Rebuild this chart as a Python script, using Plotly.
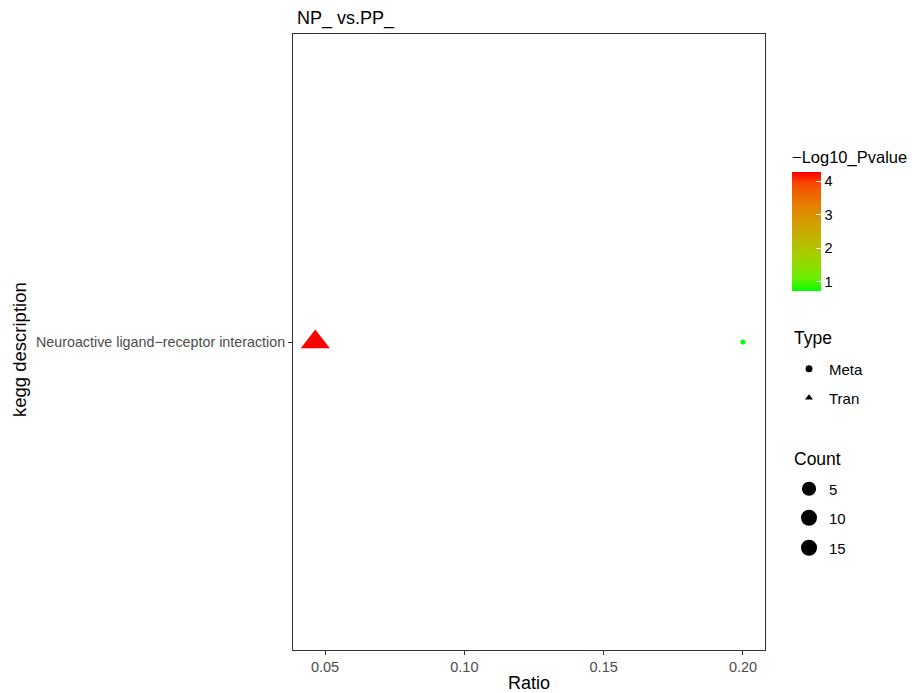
import numpy as np
import plotly.graph_objects as go

# ---- data ----
pathways = ["Neuroactive ligand\u2212receptor interaction", "Neuroactive ligand\u2212receptor interaction"]
types = ["Meta", "Tran"]
ratios = [0.2, 0.0465]
neg_log10_p = [0.73, 4.27]
counts = [1, 18]
count_legend_values = [5, 10, 15]
x_ticks = [0.05, 0.10, 0.15, 0.20]

# ---- layout helpers (reference pixel coordinates, page has 8px body margin) ----
FONT = "Liberation Sans, Arial, Helvetica, sans-serif"
OFF = 8
W, H = 920 - OFF, 693 - OFF
PANEL_L, PANEL_R, PANEL_T, PANEL_B = 293, 765, 34, 650
L, T = PANEL_L - OFF, PANEL_T - OFF
R, B = W - (PANEL_R - OFF), H - (PANEL_B - OFF)
PW, PH = W - L - R, H - T - B


def px_x(p):
    return (p - OFF - L) / PW


def px_y(p):
    return (H - B - (p - OFF)) / PH


def hex2rgb(h):
    h = h.lstrip("#")
    return np.array([int(h[i:i + 2], 16) for i in (0, 2, 4)]) / 255.0


def srgb_to_lab(c):
    c = np.where(c <= 0.04045, c / 12.92, ((c + 0.055) / 1.055) ** 2.4)
    M = np.array([[0.4124, 0.3576, 0.1805], [0.2126, 0.7152, 0.0722], [0.0193, 0.1192, 0.9505]])
    xyz = M @ c / np.array([0.95047, 1.0, 1.08883])
    f = np.where(xyz > 0.008856, np.cbrt(xyz), 7.787 * xyz + 16 / 116)
    return np.array([116 * f[1] - 16, 500 * (f[0] - f[1]), 200 * (f[1] - f[2])])


def lab_to_srgb(lab):
    fy = (lab[0] + 16) / 116
    fx = fy + lab[1] / 500
    fz = fy - lab[2] / 200
    f = np.array([fx, fy, fz])
    xyz = np.where(f ** 3 > 0.008856, f ** 3, (f - 16 / 116) / 7.787) * np.array([0.95047, 1.0, 1.08883])
    Mi = np.array([[3.2406, -1.5372, -0.4986], [-0.9689, 1.8758, 0.0415], [0.0557, -0.2040, 1.0570]])
    c = np.clip(Mi @ xyz, 0, 1)
    c = np.where(c <= 0.0031308, 12.92 * c, 1.055 * c ** (1 / 2.4) - 0.055)
    return "rgb(%d,%d,%d)" % tuple(np.round(np.clip(c, 0, 1) * 255))


lo, hi = srgb_to_lab(hex2rgb("#00FF00")), srgb_to_lab(hex2rgb("#FF0000"))
colorscale = [[t, lab_to_srgb(lo + (hi - lo) * t)] for t in np.linspace(0, 1, 11)]

cmin_c, cmax_c = min(counts), max(counts)


def size_px(c):
    return 5 + 19 * np.sqrt((c - cmin_c) / (cmax_c - cmin_c))


symbol_map = {"Meta": "circle", "Tran": "triangle-up"}
shape_factor = {"Meta": 1.0, "Tran": 1.05}

fig = go.Figure()

# data traces (one per type)
for i, t in enumerate(types):
    fig.add_trace(go.Scatter(
        x=[ratios[i]], y=[pathways[i]], mode="markers", showlegend=False,
        marker=dict(
            symbol=symbol_map[t], size=[size_px(counts[i]) * shape_factor[t]], opacity=1,
            color=[neg_log10_p[i]], colorscale=colorscale,
            cmin=min(neg_log10_p), cmax=max(neg_log10_p),
            showscale=(i == 0),
            colorbar=dict(
                title=dict(text="\u2212Log10_Pvalue", side="top",
                           font=dict(size=16.5, color="black", family=FONT)),
                thickness=29, thicknessmode="pixels", len=143, lenmode="pixels",
                x=px_x(792), xanchor="left", y=px_y(148), yanchor="top",
                xpad=0, ypad=0, outlinewidth=0,
                tickvals=[1, 2, 3, 4], ticks="inside", ticklen=5, tickcolor="white",
                tickfont=dict(size=14.5, color="black", family=FONT),
            ),
            line=dict(width=0),
        ),
        hovertemplate="%{x}<extra></extra>",
    ))

# legend entries: each in its own legend box to control spacing
legend_layout = {}
legend_items = (
    [(t, symbol_map[t], 7, y) for t, y in zip(types, [369, 398])]
    + [(str(c), "circle", size_px(c), y) for c, y in zip(count_legend_values, [489, 518, 548])]
)
for k, (name, sym, sz, ypos) in enumerate(legend_items):
    key = "legend" if k == 0 else "legend%d" % (k + 1)
    fig.add_trace(go.Scatter(
        x=[None], y=[None], mode="markers", name=name, legend=key,
        marker=dict(symbol=sym, size=sz, color="black"),
    ))
    legend_layout[key] = dict(
        x=px_x(789), xanchor="left", y=px_y(ypos), yanchor="middle",
        bgcolor="rgba(0,0,0,0)", borderwidth=0,
        font=dict(size=15, color="black", family=FONT), itemsizing="trace",
    )

annotations = [
    dict(text="Type", x=px_x(792), y=px_y(338), xref="paper", yref="paper",
         xanchor="left", yanchor="middle", showarrow=False,
         font=dict(size=17.5, color="black", family=FONT)),
    dict(text="Count", x=px_x(792), y=px_y(459), xref="paper", yref="paper",
         xanchor="left", yanchor="middle", showarrow=False,
         font=dict(size=17.5, color="black", family=FONT)),
    # y-axis title
    dict(text="kegg description", x=px_x(19), y=px_y(350), xref="paper", yref="paper",
         xanchor="center", yanchor="middle", textangle=-90, showarrow=False,
         font=dict(size=18.5, color="black", family=FONT)),
]

fig.update_layout(
    width=W, height=H,
    margin=dict(l=L, r=R, t=T, b=B, autoexpand=False),
    paper_bgcolor="white", plot_bgcolor="white",
    font=dict(family=FONT, color="black"),
    title=dict(text="NP_ vs.PP_", xref="paper", x=4 / PW, xanchor="left",
               yref="container", y=1 - (18 - OFF) / H, yanchor="middle",
               font=dict(size=18, color="black", family=FONT)),
    annotations=annotations,
    xaxis=dict(
        range=[0.0385, 0.2079], tickvals=x_ticks, tickformat=".2f",
        showgrid=False, zeroline=False, showline=True, mirror=True, linecolor="#333333", linewidth=1,
        ticks="outside", ticklen=4, tickcolor="#333333",
        tickfont=dict(size=14.5, color="#4D4D4D", family=FONT),
        title=dict(text="Ratio", font=dict(size=18, color="black", family=FONT), standoff=2),
    ),
    yaxis=dict(
        type="category", range=[-0.6, 0.6],
        showgrid=False, zeroline=False, showline=True, mirror=True, linecolor="#333333", linewidth=1,
        ticks="outside", ticklen=4, tickcolor="#333333",
        tickfont=dict(size=14.3, color="#4D4D4D", family=FONT),
    ),
    **legend_layout,
)

fig.write_html("out.html")
